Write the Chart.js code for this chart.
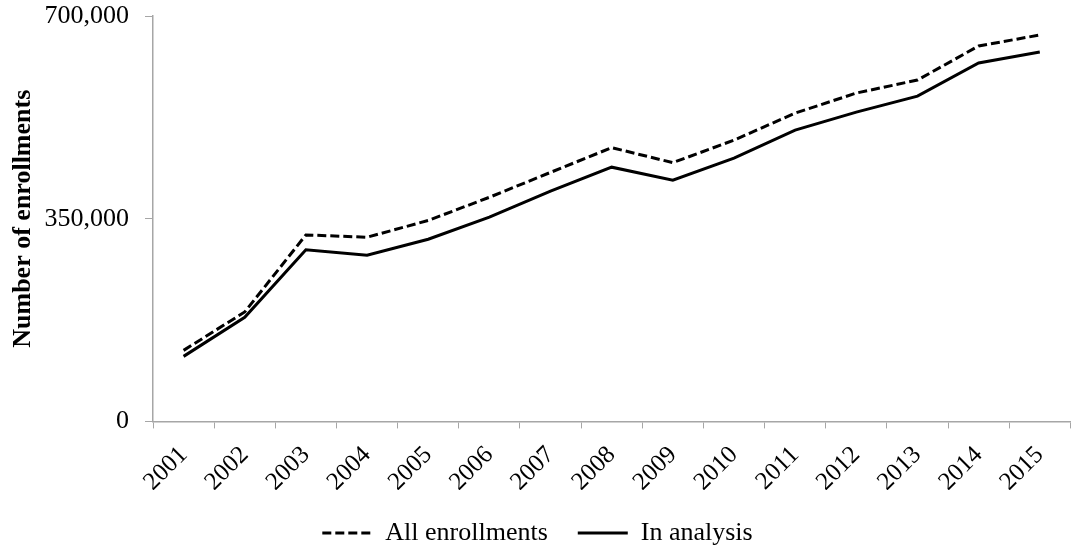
<!DOCTYPE html>
<html>
<head>
<meta charset="utf-8">
<script src="https://cdn.jsdelivr.net/npm/chart.js@4"></script>
<style>
  body { margin: 0; background: #fff; }
  #enrollchart { display: block; }
</style>
</head>
<body>
<canvas id="enrollchart" width="1073" height="548"></canvas>
<script>
const years = ['2001','2002','2003','2004','2005','2006','2007','2008','2009','2010','2011','2012','2013','2014','2015'];
const allEnrollments = [122700, 189000, 322000, 318000, 347000, 387000, 430000, 472700, 446800, 485700, 532300, 567000, 589400, 648200, 667200];
const inAnalysis = [112300, 179800, 296400, 286900, 314600, 352600, 397500, 439000, 416500, 454600, 503000, 534100, 561700, 618800, 637800];
const yTicks = [0, 350000, 700000];

const serif = "'Liberation Serif', 'Times New Roman', serif";
const axisGray = '#a6a6a6';

const ctx = document.getElementById('enrollchart').getContext('2d');

// legend swatches: take the dash pattern from the dataset itself
function legendLabels(chart) {
    const items = Chart.defaults.plugins.legend.labels.generateLabels(chart);
    items.forEach(item => {
        item.lineDash = chart.data.datasets[item.datasetIndex].borderDash || [];
    });
    return items;
}

const myChart = new Chart(ctx, {
    type: 'line',
    data: {
        labels: years,
        datasets: [{
            label: 'All enrollments',
            data: allEnrollments,
            borderColor: '#000',
            borderWidth: 3,
            borderDash: [9, 4],
            pointRadius: 0,
            tension: 0,
            fill: false
        }, {
            label: 'In analysis',
            data: inAnalysis,
            borderColor: '#000',
            borderWidth: 3,
            pointRadius: 0,
            tension: 0,
            fill: false
        }]
    },
    options: {
        responsive: false,
        animation: false,
        layout: { padding: { top: 16, right: 0, left: 2, bottom: -8 } },
        plugins: {
            tooltip: { enabled: false },
            legend: {
                position: 'bottom',
                labels: {
                    usePointStyle: true,
                    pointStyle: 'line',
                    pointStyleWidth: 50,
                    color: '#000',
                    padding: 30,
                    font: { family: serif, size: 26 },
                    generateLabels: legendLabels
                }
            }
        },
        scales: {
            x: {
                offset: true,
                afterFit: axis => { axis.height -= 19; },
                grid: {
                    offset: true,
                    drawOnChartArea: false,
                    color: axisGray,
                    tickLength: 7
                },
                border: { color: axisGray, width: 1.5 },
                ticks: {
                    color: '#000',
                    maxRotation: 45,
                    minRotation: 45,
                    autoSkip: false,
                    padding: 12,
                    font: { family: serif, size: 25 }
                }
            },
            y: {
                min: 0,
                max: 700000,
                afterBuildTicks: axis => { axis.ticks = yTicks.map(v => ({ value: v })); },
                afterFit: axis => {
                    axis.width = 151;
                    axis.paddingTop = 0;
                    axis.paddingBottom = 0;
                },
                grid: {
                    drawOnChartArea: false,
                    color: axisGray,
                    tickLength: 8
                },
                border: { color: axisGray, width: 1.5 },
                title: {
                    display: true,
                    text: 'Number of enrollments',
                    color: '#000',
                    padding: { top: 6, bottom: 6 },
                    font: { family: serif, size: 26, weight: 'bold' }
                },
                ticks: {
                    color: '#000',
                    padding: 16,
                    font: { family: serif, size: 26 },
                    callback: v => v.toLocaleString('en-US')
                }
            }
        }
    }
});
</script>
</body>
</html>
